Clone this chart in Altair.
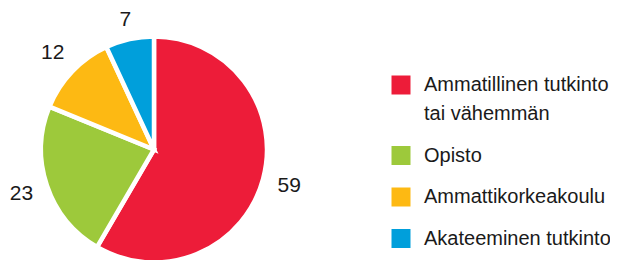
import altair as alt
import pandas as pd

categories = ["Ammatillinen tutkinto\ntai vähemmän", "Opisto", "Ammattikorkeakoulu", "Akateeminen tutkinto"]
values = [59, 23, 12, 7]
colors = ["#ED1C39", "#9DC93B", "#FDB913", "#009FDB"]

df = pd.DataFrame({"cat": categories, "val": values, "idx": list(range(len(values)))})

FONT = "Liberation Sans"

base = alt.Chart(df).encode(
    theta=alt.Theta("val:Q", stack=True),
    order=alt.Order("idx:Q"),
)

pie = base.mark_arc(outerRadius=113, stroke="white", strokeWidth=4.5).encode(
    x=alt.value(146),
    y=alt.value(141.5),
    color=alt.Color(
        "cat:N",
        scale=alt.Scale(domain=categories, range=colors),
        sort=categories,
        legend=alt.Legend(
            title=None,
            orient="none",
            legendX=383,
            legendY=67,
            symbolType="square",
            symbolSize=361,
            symbolStrokeWidth=0,
            labelFont=FONT,
            labelFontSize=20,
            labelColor="#1a1a1a",
            labelOffset=13,
            labelLimit=300,
            rowPadding=21.5,
            padding=0,
            labelExpr="split(datum.label, '\\n')",
        ),
    ),
)

# small slices get their label a little closer to the pie
labels = base.mark_text(
    radius=alt.expr("datum.val < 10 ? 132.5 : 140"),
    font=FONT,
    fontSize=21,
    color="#1a1a1a",
).encode(
    x=alt.value(146),
    y=alt.value(141.5),
    text=alt.Text("val:Q"),
)

chart = (
    alt.layer(pie, labels)
    .properties(width=602, height=252, padding=0, autosize=alt.AutoSizeParams(type="none"))
    .configure(style={"guide-label": {"lineHeight": 29}})
    .configure_view(stroke=None)
)

chart.save("out.html", embed_options={"renderer": "svg", "actions": False})
